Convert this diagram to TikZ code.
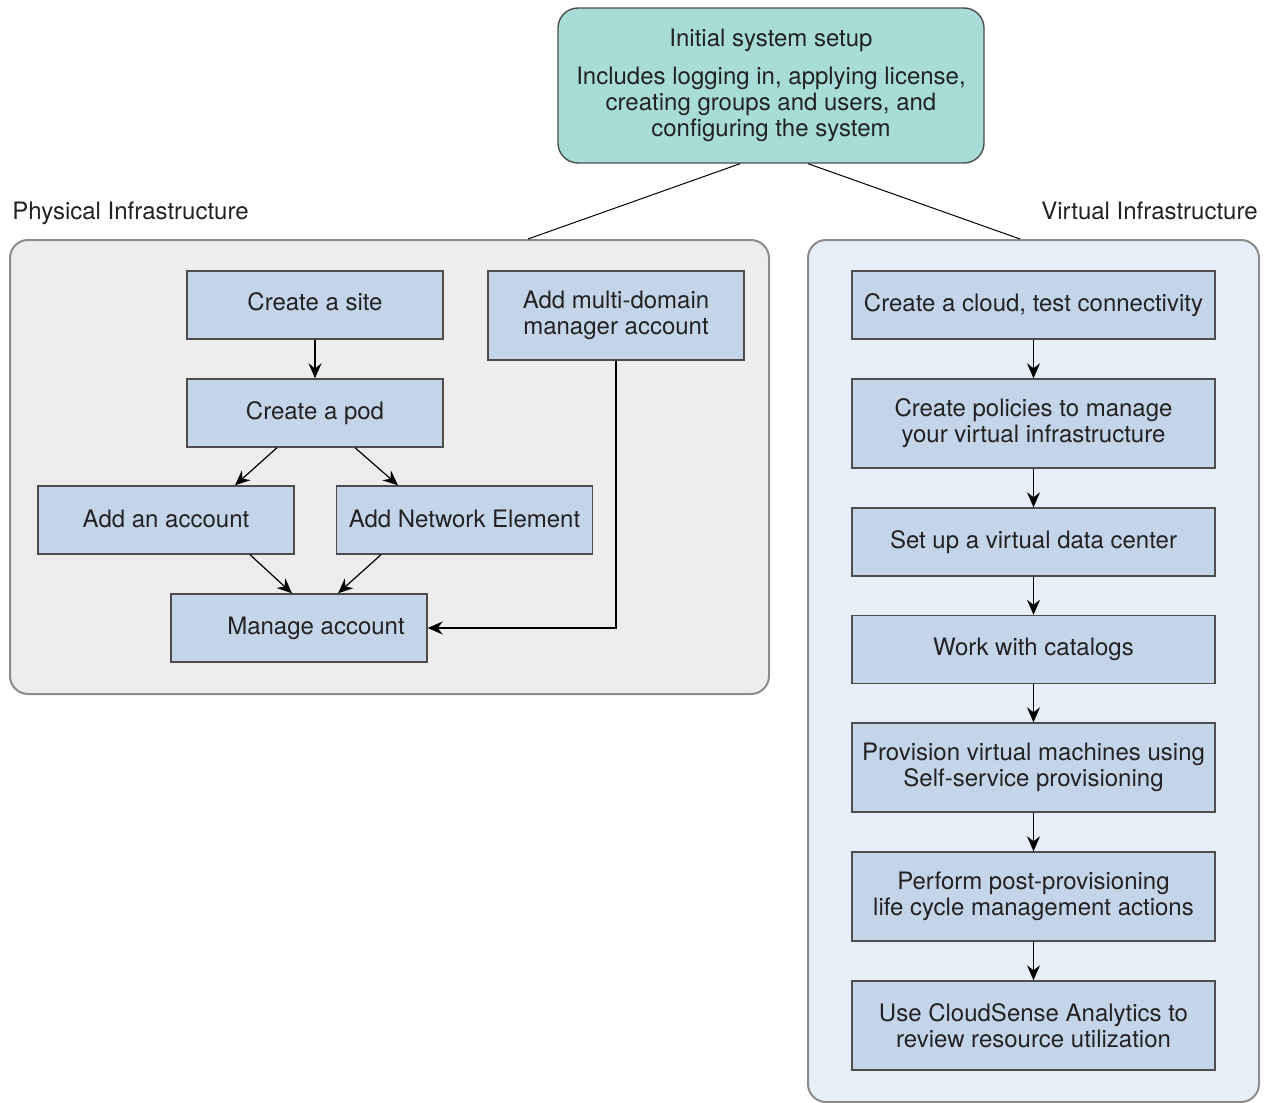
\documentclass[tikz,border=0pt]{standalone}
\usepackage{fontspec}
\setmainfont{TeX Gyre Heros}
\usepackage{tikz}
\usetikzlibrary{arrows.meta,calc}

\definecolor{setupfill}{HTML}{A8DCD7}
\definecolor{physfill}{HTML}{EEECEC}
\definecolor{virtfill}{HTML}{E6EEF8}
\definecolor{boxfill}{HTML}{C4D5EA}
\definecolor{boxline}{HTML}{4D4D4D}
\definecolor{arealine}{HTML}{8C8C8C}
\definecolor{txt}{HTML}{222222}

\tikzset{
  stepbox/.style={draw=boxline, fill=boxfill, line width=0.7pt, minimum width=128pt, minimum height=34pt, inner sep=0pt, align=center, text=txt},
  widebox/.style={stepbox, minimum width=181.5pt},
  area/.style={draw=arealine, line width=1pt, rounded corners=9pt, inner sep=0pt},
  flow/.style={-{Stealth[length=7.5pt,width=6.5pt,inset=2.5pt]}, line width=0.6pt, black},
  title/.style={inner sep=0pt, text=txt}
}

\begin{document}
\begin{tikzpicture}[x=0.5pt, y=-0.5pt, font=\fontsize{12}{13}\selectfont]
\useasboundingbox (0,0) rectangle (1269,1103);

\node[area, fill=physfill, minimum width=379.5pt, minimum height=227pt] (phys) at (389.5,467) {};
\node[area, fill=virtfill, minimum width=225.5pt, minimum height=431pt] (virt) at (1033.5,671) {};

\node[draw=boxline, fill=setupfill, line width=0.7pt, rounded corners=10pt, minimum width=213pt, minimum height=77.5pt, inner sep=0pt, align=center, text=txt] (setup) at (771,85.5)
  {Initial system setup\\[6pt] Includes logging in, applying license,\\ creating groups and users, and\\ configuring the system};

\node[title, anchor=base west] (physlabel) at (12,219) {Physical Infrastructure};
\node[title, anchor=base east] (virtlabel) at (1258,219) {Virtual Infrastructure};

\draw[black, line width=0.5pt] ($(setup.south)+(-31,0)$) -- ($(phys.north)+(138.5,0)$);
\draw[black, line width=0.5pt] ($(setup.south)+(37,0)$) -- ($(virt.north)+(-13.5,0)$);

\node[stepbox] (site) at (315,305) {\raisebox{3pt}{Create a site}};
\node[stepbox] (pod) at (315,413) {\raisebox{2pt}{Create a pod}};
\node[stepbox, minimum height=44.5pt] (mdm) at (616,315.5) {Add multi-domain\\ manager account};
\node[stepbox] (acct) at (166,520) {\raisebox{1pt}{Add an account}};
\node[stepbox] (netel) at (464.5,520) {\raisebox{1pt}{Add Network Element}};
\node[stepbox] (manage) at (299,628) {\hspace*{17pt}Manage account};

\draw[flow] (site) -- (pod);
\draw[flow] ($(pod.south)+(-38,0)$) -- ($(acct.north)+(69,0)$);
\draw[flow] ($(pod.south)+(40,0)$) -- ($(netel.north)+(-66.5,0)$);
\draw[flow] ($(acct.south)+(84,0)$) -- ($(manage.north)+(-7,0)$);
\draw[flow] ($(netel.south)+(-83.5,0)$) -- ($(manage.north)+(39,0)$);
\draw[flow] (mdm.south) |- (manage.east);

\node[widebox] (cloud) at (1033.5,305) {\raisebox{2pt}{Create a cloud, test connectivity}};
\node[widebox, minimum height=44.5pt] (policy) at (1033.5,423.5) {Create policies to manage\\ your virtual infrastructure};
\node[widebox] (vdc) at (1033.5,542) {Set up a virtual data center};
\node[widebox] (catalog) at (1033.5,649.5) {Work with catalogs};
\node[widebox, minimum height=44.5pt] (provision) at (1033.5,767.5) {Provision virtual machines using\\ Self-service provisioning};
\node[widebox, minimum height=44.5pt] (postprov) at (1033.5,896.5) {Perform post-provisioning\\ life cycle management actions};
\node[widebox, minimum height=44.5pt] (analytics) at (1033.5,1025.5) {Use CloudSense Analytics to\\ review resource utilization};

\draw[flow] (cloud) -- (policy);
\draw[flow] (policy) -- (vdc);
\draw[flow] (vdc) -- (catalog);
\draw[flow] (catalog) -- (provision);
\draw[flow] (provision) -- (postprov);
\draw[flow] (postprov) -- (analytics);

\end{tikzpicture}
\end{document}
